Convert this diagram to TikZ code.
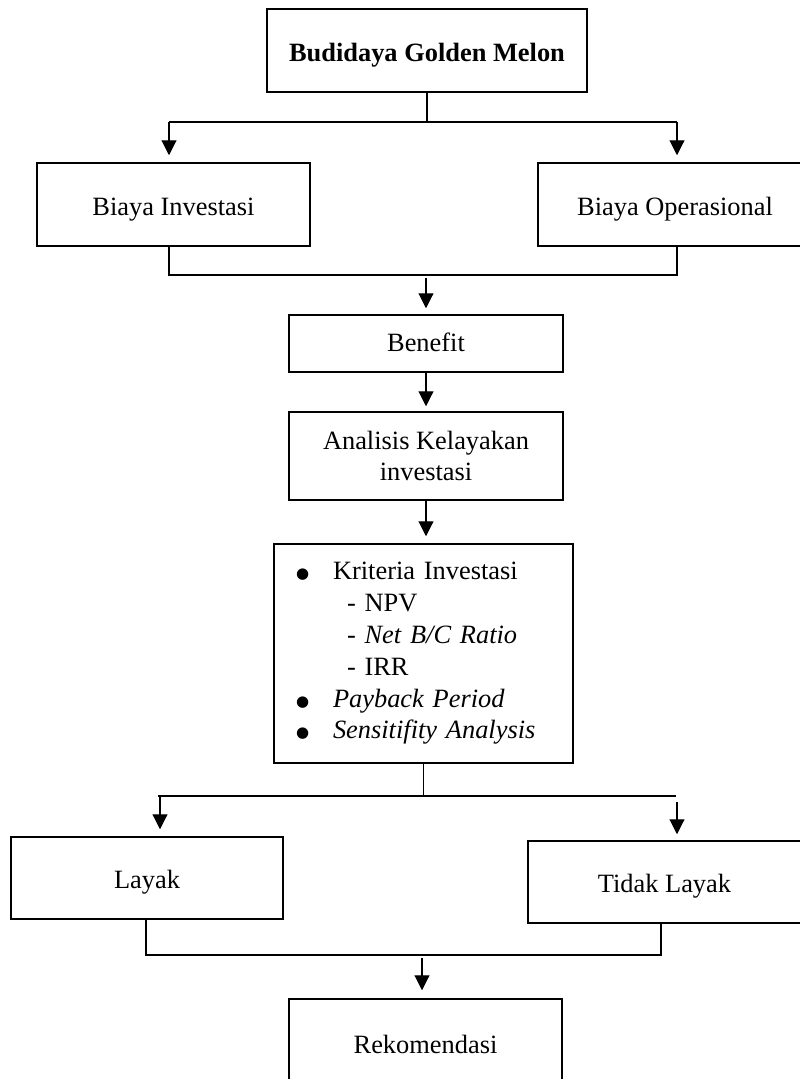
\documentclass[tikz,border=0pt]{standalone}
\usepackage{fontspec}
\setmainfont{Liberation Serif}
\newfontfamily\dejavu{DejaVu Sans}
\usetikzlibrary{arrows.meta,calc}
\newcommand{\bul}{\makebox[37pt][l]{\raisebox{1pt}{\dejavu\fontsize{15}{15}\selectfont ●}}}
\begin{document}
\begin{tikzpicture}[x=1pt,y=-1pt,
  box/.style={draw,line width=1.5pt,inner sep=0pt,align=center,font=\fontsize{26.4}{31.8}\selectfont},
  one/.style={box,text height=23pt,text depth=2pt},
  conn/.style={line width=1.1pt},
  arr/.style={conn,-{Triangle[length=15pt,width=15pt]}}
]
\useasboundingbox (0,0) rectangle (800,1079);
\clip (0,0) rectangle (800,1079);

% nodes
\node[one,minimum width=320pt,minimum height=83pt] (top) at (427,50.5) {\textbf{Budidaya Golden Melon}};
\node[one,minimum width=273pt,minimum height=83pt] (inv) at (173.5,204.5) {Biaya Investasi};
\node[one,minimum width=274pt,minimum height=83pt] (ops) at (675,204.5) {Biaya Operasional};
\node[one,minimum width=274pt,minimum height=57pt,text height=18pt,text depth=3pt] (ben) at (426,343.5) {Benefit};
\node[box,minimum width=274pt,minimum height=88pt] (ana) at (426,456) {Analisis Kelayakan\\investasi};
\node[box,minimum width=299pt,minimum height=219pt,text width=299pt,align=left] (kri) at (423.5,653.5) {%
\hspace*{22pt}\bul Kriteria Investasi\\
\hspace*{73pt}- NPV\\
\hspace*{73pt}- \textit{Net B/C Ratio}\\
\hspace*{73pt}- IRR\\
\hspace*{22pt}\bul\textit{Payback Period}\\
\hspace*{22pt}\bul\textit{Sensitifity Analysis}};
\node[one,minimum width=272pt,minimum height=82pt] (lay) at (147,878) {Layak};
\node[one,minimum width=273pt,minimum height=82pt] (tid) at (664.5,882) {Tidak Layak};
\node[one,minimum width=273pt,minimum height=92pt,text height=18pt,text depth=2pt] (rek) at (425.5,1045) {Rekomendasi};

% split 1
\coordinate (j1l) at (169,122);
\coordinate (j1r) at (677,122);
\draw[conn] (top.south) -- (top.south |- j1l);
\draw[conn] (j1l) -- (j1r);
\draw[arr,shorten >=7pt] (j1l) -- (j1l |- inv.north);
\draw[arr,shorten >=7pt] (j1r) -- (j1r |- ops.north);

% merge 1
\coordinate (j2l) at (169,275);
\coordinate (j2r) at (677,275);
\coordinate (j2c) at (426,278);
\draw[conn] (inv.south -| j2l) -- (j2l) -- (j2r) -- (ops.south -| j2r);
\draw[arr,shorten >=6pt] (j2c) -- (ben.north);

\draw[arr,shorten >=5pt] (ben.south) -- (ana.north);
\draw[arr,shorten >=7pt] (ana.south) -- (ana.south |- kri.north);

% split 2
\coordinate (j3l) at (158,796);
\coordinate (j3r) at (676,796);
\coordinate (a3l) at (160,796);
\coordinate (a3r) at (677,802);
\draw[conn] (kri.south) -- (kri.south |- j3l);
\draw[conn] (j3l) -- (j3r);
\draw[arr,shorten >=7pt] (a3l) -- (a3l |- lay.north);
\draw[arr,shorten >=6pt] (a3r) -- (a3r |- tid.north);

% merge 2
\coordinate (j4l) at (146,955);
\coordinate (j4r) at (661,955);
\coordinate (j4c) at (422,958);
\draw[conn] (lay.south -| j4l) -- (j4l) -- (j4r) -- (tid.south -| j4r);
\draw[arr,shorten >=8pt] (j4c) -- (j4c |- rek.north);
\end{tikzpicture}
\end{document}
